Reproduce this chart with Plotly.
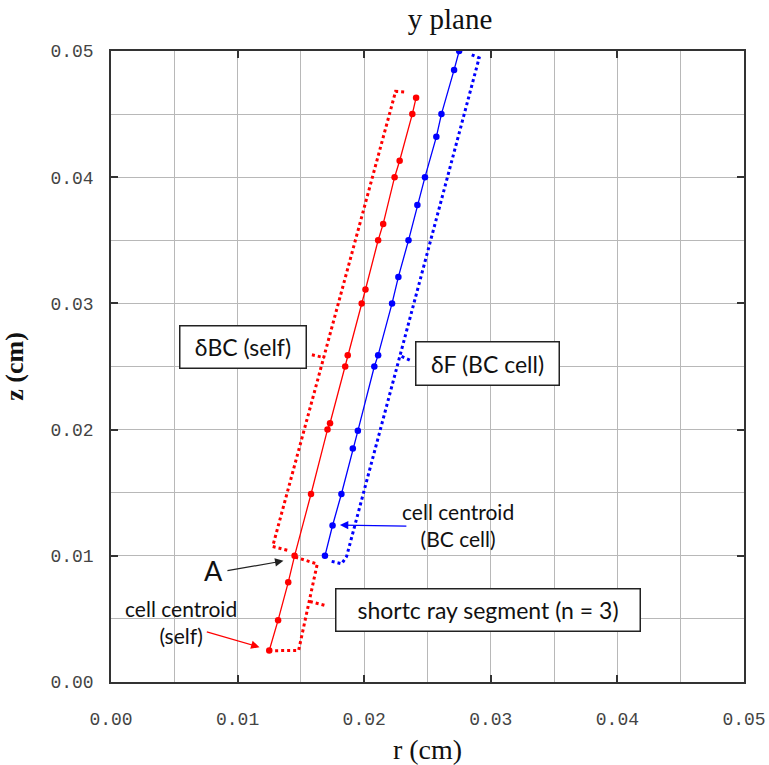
import plotly.graph_objects as go

# ---- data (cm) ----
self_r = [0.0125, 0.0132, 0.0140, 0.0145, 0.0158, 0.0171, 0.0173, 0.0185, 0.0187,
          0.0198, 0.0201, 0.0211, 0.0215, 0.0224, 0.0228, 0.0238, 0.0241]
self_z = [0.0025, 0.0049, 0.0079, 0.0100, 0.0149, 0.0200, 0.0205, 0.0250, 0.0259,
          0.0300, 0.0311, 0.0350, 0.0363, 0.0400, 0.0413, 0.0450, 0.0463]

bc_r = [0.0169, 0.0175, 0.0182, 0.0191, 0.0195, 0.0208, 0.0211, 0.0222, 0.0227,
        0.0235, 0.0242, 0.0248, 0.0257, 0.0261, 0.0271, 0.0275]
bc_z = [0.0100, 0.0124, 0.0149, 0.0185, 0.0199, 0.0250, 0.0259, 0.0300, 0.0321,
        0.0350, 0.0378, 0.0400, 0.0432, 0.0450, 0.0485, 0.0500]

# dotted region outlines (open polylines) and their pointer ticks
dbc_r = [0.01392, 0.01277, 0.02248, 0.02316, 0.02335]
dbc_z = [0.01044, 0.01074, 0.04680, 0.04675, 0.04662]
dbc_tick_r = [0.01587, 0.01683]
dbc_tick_z = [0.02593, 0.02570]

df_r = [0.01743, 0.01822, 0.01861, 0.02908, 0.02829]
df_z = [0.00956, 0.00937, 0.00995, 0.04945, 0.04979]
df_tick_r = [0.02295, 0.02366]
df_tick_z = [0.02580, 0.02548]

sr_r = [0.01455, 0.01629, 0.01482, 0.01277]
sr_z = [0.00990, 0.00935, 0.00250, 0.00248]
sr_tick_r = [0.01571, 0.01692]
sr_tick_z = [0.00638, 0.00606]

x_ticks = [0.00, 0.01, 0.02, 0.03, 0.04, 0.05]
y_ticks = [0.00, 0.01, 0.02, 0.03, 0.04, 0.05]
tick_text = ["0.00", "0.01", "0.02", "0.03", "0.04", "0.05"]

RED = "#ff0000"
BLUE = "#0000ff"

fig = go.Figure()

def dotted(xs, ys, color):
    fig.add_trace(go.Scatter(x=xs, y=ys, mode="lines", showlegend=False, hoverinfo="skip",
                             line=dict(color=color, width=3, dash="dot")))

dotted(dbc_r, dbc_z, RED)
dotted(dbc_tick_r, dbc_tick_z, RED)
dotted(sr_r, sr_z, RED)
dotted(sr_tick_r, sr_tick_z, RED)
dotted(df_r, df_z, BLUE)
dotted(df_tick_r, df_tick_z, BLUE)

fig.add_trace(go.Scatter(x=self_r, y=self_z, mode="lines+markers", showlegend=False,
                         line=dict(color=RED, width=1.3), marker=dict(color=RED, size=6.5)))
fig.add_trace(go.Scatter(x=bc_r, y=bc_z, mode="lines+markers", showlegend=False,
                         line=dict(color=BLUE, width=1.3), marker=dict(color=BLUE, size=6.5)))

SANS = "Lato, Open Sans, sans-serif"
LBL = dict(family=SANS, size=23, color="#111")

def boxed(text, x, y, w, h):
    fig.add_annotation(x=x, y=y, xref="x", yref="y", text=text, showarrow=False,
                       font=LBL, bgcolor="white", bordercolor="#222", borderwidth=1.5,
                       borderpad=0, width=w, height=h, align="center", valign="middle")

boxed("δBC (self)", 0.01039, 0.02655, 125, 41)
boxed("δF (BC cell)", 0.02972, 0.02527, 142, 42)
boxed("shortc ray segment (n = 3)", 0.02976, 0.00573, 303, 41)

SM = dict(family=SANS, size=21, color="#111")
fig.add_annotation(x=0.02740, y=0.01246, text="cell centroid<br>(BC cell)", showarrow=False,
                   font=SM, align="center")
fig.add_annotation(x=0.00551, y=0.00474, text="cell centroid<br>(self)", showarrow=False,
                   font=SM, align="center")
fig.add_annotation(x=0.00811, y=0.00882, text="A", showarrow=False,
                   font=dict(family=SANS, size=27, color="#111"))

def arrow(hx, hy, tx, ty, color):
    fig.add_annotation(x=hx, y=hy, ax=tx, ay=ty, xref="x", yref="y", axref="x", ayref="y",
                       text="", showarrow=True, arrowhead=2, arrowsize=1.4, arrowwidth=1.2,
                       arrowcolor=color, standoff=0, startstandoff=0)

arrow(0.01362, 0.00960, 0.00908, 0.00880, "#222")
arrow(0.01808, 0.01244, 0.02345, 0.01235, BLUE)
arrow(0.01173, 0.00276, 0.00745, 0.00401, RED)

TICKF = dict(family="Liberation Mono, DejaVu Sans Mono, monospace", size=18, color="#444")
axis_common = dict(
    showgrid=True, gridcolor="#b8b8b8", gridwidth=1,
    minor=dict(dtick=0.005, showgrid=True, gridcolor="#b8b8b8", gridwidth=1),
    showline=True, linecolor="#333", linewidth=1.5, mirror="ticks",
    ticks="inside", ticklen=7, tickcolor="#333", tickwidth=1.5,
    zeroline=False, tickfont=TICKF,
)

SERIF = "Liberation Serif, serif"
fig.update_xaxes(range=[0, 0.05], tickvals=x_ticks, ticktext=tick_text,
                 title=dict(text="r (cm)", font=dict(family=SERIF, size=28, color="#111"),
                            standoff=14),
                 ticklabelstandoff=20, **axis_common)
fig.update_yaxes(range=[0, 0.05], tickvals=y_ticks, ticktext=tick_text,
                 title=dict(text="<b>z (cm)</b>", font=dict(family=SERIF, size=26, color="#111"),
                            standoff=20),
                 ticklabelstandoff=12, **axis_common)

fig.update_layout(
    width=769, height=765,
    margin=dict(l=111, r=25, t=51, b=83, autoexpand=False),
    paper_bgcolor="white", plot_bgcolor="white",
    title=dict(text="y plane", xref="container", x=450/769, xanchor="center",
               yref="container", y=1-19/765, yanchor="middle",
               font=dict(family=SERIF, size=29, color="#111")),
)

fig.write_html("out.html")
